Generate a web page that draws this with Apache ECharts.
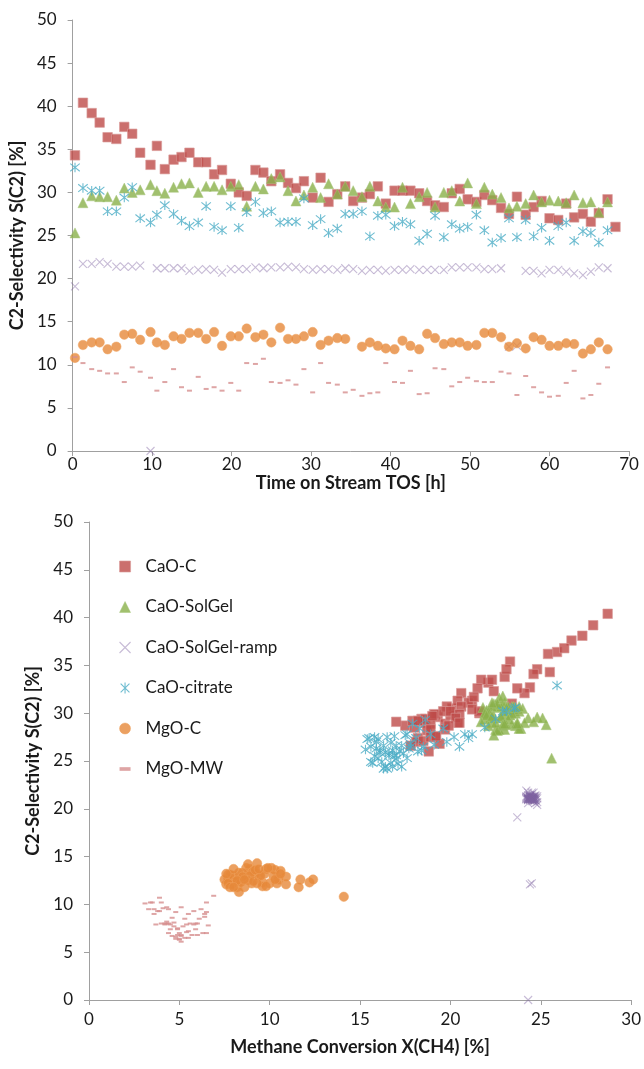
<!DOCTYPE html>
<html><head><meta charset="utf-8">
<script src="https://cdn.jsdelivr.net/npm/echarts/dist/echarts.min.js"></script>
<style>html,body{margin:0;padding:0;background:#fff}#c{width:644px;height:1069px}</style>
</head><body><div id="c"></div><script>
// ---- data ----
const seriesNames = ['CaO-C','CaO-SolGel','CaO-SolGel-ramp','CaO-citrate','MgO-C','MgO-MW'];
const xTicksTop = [0,10,20,30,40,50,60,70];
const yTicks = [0,5,10,15,20,25,30,35,40,45,50];
const xTicksBottom = [0,5,10,15,20,25,30];

// time on stream [h] of each sample
const TOS = [0.3,1.3,2.4,3.4,4.4,5.5,6.5,7.5,8.5,9.8,10.6,11.6,12.7,13.7,14.7,15.8,16.8,17.8,18.8,19.9,
20.9,21.9,23.0,24.0,25.0,26.1,27.1,28.1,29.1,30.2,31.2,32.2,33.3,34.3,35.3,36.4,37.4,38.4,39.4,40.5,
41.5,42.5,43.6,44.6,45.6,46.7,47.7,48.7,49.7,50.8,51.8,52.8,53.9,54.9,55.9,57.0,58.0,59.0,60.0,61.1,
62.1,63.1,64.2,65.2,66.2,67.3,68.3];

// C2 selectivity S(C2) [%]
const S_CaO_C = [34.3,40.4,39.2,38.1,36.4,36.2,37.6,36.8,34.6,33.2,
35.4,32.7,33.8,34.1,34.6,33.5,33.5,32.1,32.6,31.0,
30.0,29.6,32.6,32.3,31.3,32.1,31.1,30.5,31.3,29.4,
31.7,28.9,29.8,30.7,29.0,29.4,29.8,30.7,28.7,30.2,
30.2,30.2,29.9,29.0,28.5,28.3,29.9,30.4,29.2,28.9,
29.7,29.1,28.2,27.5,29.5,27.4,28.3,29.0,27.0,26.8,
28.7,27.1,27.5,26.6,27.6,29.2,26.0];
const S_CaO_SolGel = [25.3,28.8,29.6,29.5,29.5,29.1,30.5,30.0,30.3,30.9,
30.2,29.9,30.6,31.0,31.1,30.0,30.7,30.7,30.3,30.7,
30.9,28.4,30.7,30.4,31.6,31.8,30.2,29.0,29.7,30.6,
29.4,31.0,29.8,30.7,30.2,29.5,30.7,29.0,28.3,28.3,
30.6,28.7,29.5,30.0,28.3,30.0,30.2,29.0,31.1,28.7,
30.6,29.8,29.4,28.2,28.4,28.7,29.7,28.9,29.1,29.0,
28.8,29.7,28.8,28.9,27.7,28.9];
const S_CaO_SolGel_ramp = [19.1,21.7,21.7,21.9,21.7,21.4,21.4,21.4,21.5,0,
21.2,21.2,21.2,21.2,20.9,21.0,21.1,21.0,20.7,21.1,
21.1,21.1,21.3,21.2,21.3,21.3,21.4,21.3,21.1,21.0,
21.1,21.1,21.0,21.2,21.1,20.9,21.0,21.0,20.9,21.0,
21.0,21.1,21.0,21.0,21.0,21.0,21.3,21.3,21.3,21.3,
21.1,21.1,21.2,12.1,12.2,20.9,20.9,20.6,21.0,21.0,
20.8,20.6,20.4,20.8,21.3,21.2];
const S_CaO_citrate = [32.9,30.5,30.2,30.2,27.8,27.8,29.4,30.6,27.0,26.5,
27.4,28.5,27.5,26.7,26.1,26.5,28.4,26.0,25.6,28.4,
25.9,27.7,28.9,27.6,27.8,26.5,26.6,26.6,29.3,26.2,
26.9,25.3,25.8,27.5,27.5,27.8,24.9,27.3,27.4,26.1,
26.6,26.3,24.4,25.2,27.3,24.8,26.3,25.8,26.0,27.4,
25.6,24.2,24.7,27.0,24.8,26.8,24.9,25.9,24.4,26.1,
26.5,24.4,25.5,25.3,24.2,25.6];
const S_MgO_C = [10.8,12.3,12.6,12.6,11.8,12.1,13.5,13.6,12.9,13.8,
12.6,12.3,13.3,13.0,13.7,13.7,13.0,13.8,12.2,13.3,
13.3,14.2,13.2,13.5,12.6,14.3,13.0,13.0,13.3,13.8,
12.3,12.8,13.1,13.0,null,12.1,12.6,12.2,11.9,11.8,
12.8,12.2,11.8,13.6,13.1,12.4,12.6,12.6,12.2,12.3,
13.7,13.7,13.2,12.1,12.5,11.9,13.2,12.9,12.2,12.2,
12.5,12.4,11.3,11.8,12.6,11.8];
const S_MgO_MW = [10.9,10.2,9.5,9.3,9.0,9.0,8.0,9.7,9.2,8.5,
7.0,8.0,9.5,7.4,7.0,8.6,7.2,7.4,7.0,7.9,
7.0,10.2,10.1,10.7,8.0,7.9,8.2,7.7,9.5,6.8,
10.2,7.9,7.7,6.8,7.1,6.4,6.7,6.8,10.2,8.0,
7.9,9.3,6.6,6.7,9.6,9.5,7.5,8.0,8.5,8.1,
8.0,8.0,9.2,9.0,6.5,8.7,7.4,6.8,6.3,6.4,
7.9,9.3,6.1,6.5,7.8,9.7];

// methane conversion X(CH4) [%] of the same samples
const X_CaO_C = [25.5,28.7,27.9,27.3,25.9,25.4,26.7,26.3,24.8,22.1,
23.3,24.4,23.0,24.6,23.1,22.3,21.7,24.1,23.7,23.4,
21.6,19.3,21.5,22.4,21.2,20.6,21.0,20.1,20.4,18.4,
21.3,19.7,20.0,19.8,20.4,18.6,19.2,20.6,17.5,19.6,
21.6,20.0,19.1,18.6,18.0,19.7,20.5,21.2,17.9,18.9,
19.0,17.0,18.7,19.2,20.3,18.2,18.9,20.5,18.1,19.4,
19.9,18.5,18.9,17.8,19.2,18.2,18.8];
const X_CaO_SolGel = [25.6,25.3,24.8,25.1,24.3,24.6,24.0,23.6,23.3,22.9,
23.8,23.1,22.6,22.4,23.0,22.2,23.4,22.8,22.0,23.2,
22.5,23.9,22.3,23.5,22.7,22.9,22.1,23.7,22.4,23.1,
21.9,22.6,23.3,23.8,22.0,22.8,23.5,22.3,23.0,22.5,
21.8,23.6,22.2,23.4,22.7,21.9,23.0,24.1,22.3,22.9,
23.6,22.0,23.2,22.6,23.8,22.1,22.8,23.4,21.7,22.5,
23.1,22.3,22.9,23.7,22.4,23.0];
const X_CaO_SolGel_ramp = [23.7,24.3,24.5,24.2,24.6,24.4,24.7,24.3,24.5,24.3,
24.6,24.4,24.2,24.5,24.7,24.3,24.6,24.4,24.8,24.5,
24.3,24.6,24.4,24.5,24.2,24.7,24.4,24.6,24.3,24.5,
24.8,24.4,24.6,24.3,24.5,24.7,24.4,24.2,24.6,24.5,
24.3,24.7,24.4,24.6,24.5,24.3,24.8,24.4,24.6,24.5,
24.2,24.7,24.4,24.4,24.5,24.6,24.3,24.7,24.5,24.4,
24.6,24.3,24.8,24.5,24.4,24.6];
const X_CaO_citrate = [25.9,23.5,22.9,23.1,21.2,20.8,22.5,23.6,19.8,20.5,
21.0,21.9,20.2,19.1,18.4,17.8,19.6,17.2,16.6,18.3,
16.1,17.5,17.9,16.9,18.9,15.6,16.3,17.0,18.6,15.3,
16.7,16.0,17.4,15.8,16.5,17.6,16.2,15.4,18.1,16.8,
17.3,15.9,16.4,17.0,16.0,15.7,17.7,16.6,18.2,15.5,
16.9,16.3,17.1,15.9,16.7,17.8,15.6,16.4,17.3,16.1,
18.5,16.8,15.8,17.6,16.5,17.0];
const X_MgO_C = [14.1,12.2,12.4,11.7,11.6,10.9,10.6,10.3,10.9,10.1,
10.5,9.6,9.2,10.2,9.8,8.9,9.4,8.7,10.4,9.0,
8.5,8.8,9.7,9.1,8.1,9.3,8.0,9.5,8.3,9.9,
7.8,8.6,7.7,8.9,null,7.6,8.4,7.9,9.6,8.2,
7.7,10.0,8.6,9.2,7.8,8.1,10.3,7.5,9.0,8.4,
9.4,8.0,10.6,7.9,8.8,9.8,7.6,8.5,9.3,7.7,
8.2,9.1,8.3,7.8,8.6,8.0];
const X_MgO_MW = [6.9,6.5,6.2,5.8,6.4,5.5,6.0,5.1,4.8,5.3,
6.5,5.6,4.4,5.9,6.3,4.6,5.5,4.9,4.4,4.2,
5.0,3.5,3.1,3.9,4.0,3.7,4.3,4.7,3.6,5.1,
4.0,4.5,5.2,4.9,5.4,5.0,4.6,5.7,3.4,4.2,
5.8,3.8,4.8,5.1,4.1,3.3,4.9,4.4,6.1,4.7,
5.9,4.3,6.5,3.6,5.3,6.4,4.5,6.0,5.0,4.8,
5.4,3.9,5.1,5.5,6.6,4.3];

const selectivity = [S_CaO_C,S_CaO_SolGel,S_CaO_SolGel_ramp,S_CaO_citrate,S_MgO_C,S_MgO_MW];
const conversion = [X_CaO_C,X_CaO_SolGel,X_CaO_SolGel_ramp,X_CaO_citrate,X_MgO_C,X_MgO_MW];

// ---- styles ----
const PATH_X = 'path://M0,0L10,10M0,10L10,0';
const PATH_AST = 'path://M5,0L5,10M1,1L9,9M1,9L9,1';
const PATH_DASH = 'path://M0,0L6,0L6,2L0,2Z';
const styles = [
  {symbol:'rect', symbolSize:9.5, itemStyle:{color:'#BE4B48', borderColor:'#D99A98', borderWidth:0.8}},
  {symbol:'triangle', symbolSize:10, itemStyle:{color:'#8AB04A', borderColor:'#A7C77A', borderWidth:0.6}},
  {symbol:PATH_X, symbolSize:8, itemStyle:{color:'transparent', borderColor:'rgba(128,100,162,0.55)', borderWidth:1.1}},
  {symbol:PATH_AST, symbolSize:9.5, itemStyle:{color:'transparent', borderColor:'#4BACC6', borderWidth:1.1}},
  {symbol:'circle', symbolSize:9.5, itemStyle:{color:'#E6883A', borderColor:'#F0A560', borderWidth:0.6}},
  {symbol:PATH_DASH, symbolSize:[5,2], itemStyle:{color:'#D68F8E'}}
];
const legendIcons = ['rect','triangle',PATH_X,PATH_AST,'circle',PATH_DASH];

function pairs(xs, ys){
  const out=[];
  for(let i=0;i<ys.length;i++){
    if(ys[i]==null||xs[i]==null) continue;
    out.push([xs[i], ys[i]]);
  }
  return out;
}

const FONT = 'Lato, "Liberation Sans", sans-serif';
function axis(extra, labelMargin){
  return Object.assign({
    type:'value',
    axisLine:{show:true, lineStyle:{color:'#A0A0A0', width:1}},
    axisTick:{show:true, inside:false, length:5, lineStyle:{color:'#A0A0A0'}},
    splitLine:{show:false},
    axisLabel:{color:'#1a1a1a', fontSize:17, fontFamily:FONT, margin:labelMargin},
    nameLocation:'middle',
    nameTextStyle:{color:'#1a1a1a', fontSize:18, fontWeight:'bold', fontFamily:FONT}
  }, extra);
}

const series = [];
seriesNames.forEach((n,k)=>{
  series.push(Object.assign({type:'scatter', name:n, xAxisIndex:0, yAxisIndex:0,
    data:pairs(TOS, selectivity[k]), animation:false}, styles[k]));
});
seriesNames.forEach((n,k)=>{
  series.push(Object.assign({type:'scatter', name:n, xAxisIndex:1, yAxisIndex:1,
    data:pairs(conversion[k], selectivity[k]), animation:false}, styles[k]));
});

const option = {
  backgroundColor:'#fff',
  animation:false,
  grid:[{left:71, top:20, width:558, height:431},{left:89, top:522, width:543, height:478}],
  xAxis:[
    axis({gridIndex:0, min:xTicksTop[0], max:xTicksTop[xTicksTop.length-1], interval:10,
      name:'Time on Stream TOS [h]', nameGap:23}, 5),
    axis({gridIndex:1, min:xTicksBottom[0], max:xTicksBottom[xTicksBottom.length-1], interval:5,
      name:'Methane Conversion X(CH4) [%]', nameGap:38}, 11)
  ],
  yAxis:[
    axis({gridIndex:0, min:yTicks[0], max:yTicks[yTicks.length-1], interval:5,
      name:'C2-Selectivity S(C2) [%]', nameGap:33}, 16),
    axis({gridIndex:1, min:yTicks[0], max:yTicks[yTicks.length-1], interval:5,
      name:'C2-Selectivity S(C2) [%]', nameGap:36}, 16)
  ],
  legend:{
    orient:'vertical', left:114, top:553, itemGap:23.5, itemWidth:11, itemHeight:11,
    symbolKeepAspect:true,
    textStyle:{color:'#1a1a1a', fontSize:17, lineHeight:17, fontFamily:FONT, padding:[0,0,0,10]},
    data: seriesNames.map((n,k)=>({name:n, icon:legendIcons[k], itemStyle:styles[k].itemStyle}))
  },
  series
};
const chart = echarts.init(document.getElementById('c'), null, {renderer:'canvas'});
chart.setOption(option);
</script></body></html>
